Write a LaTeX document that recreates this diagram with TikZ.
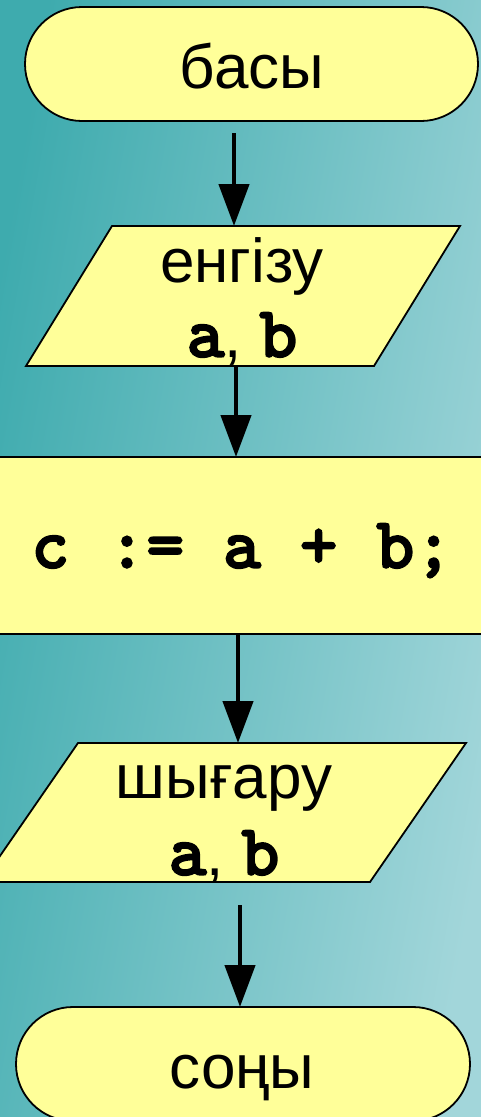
\documentclass[tikz,border=0pt]{standalone}
\usepackage{fontspec}
\setmainfont{Liberation Sans}
\newfontfamily\codefont{lmmonolt10-bold}[Extension=.otf, FakeBold=2]
\usetikzlibrary{arrows.meta}
\definecolor{bgdark}{RGB}{62,171,174}
\definecolor{bglight}{RGB}{162,214,218}
\definecolor{boxfill}{RGB}{255,255,153}
\tikzset{
  shapebox/.style={draw=black, fill=boxfill, line width=1.8pt, line join=miter},
  flow/.style={line width=4.5pt, -{Triangle[length=42pt,width=30pt]}},
  lbl/.style={anchor=base, inner sep=0pt, font=\fontsize{62}{74}\selectfont},
  code/.style={anchor=base, inner sep=0pt, font=\codefont\fontsize{73}{80}\selectfont}
}
\newcommand{\cv}[1]{{\codefont\fontsize{73}{80}\selectfont #1}}
\begin{document}
\begin{tikzpicture}[x=1pt,y=-1pt]
\useasboundingbox (0,0) rectangle (481,1117);
\begin{scope}
\clip (0,0) rectangle (481,1117);
\shade[left color=bgdark, right color=bglight, shading angle=80] (0,0) rectangle (481,1117);
% start terminal
\draw[shapebox, rounded corners=57pt] (25,7) rectangle (478,121);
\node[lbl] (start) at (252,88) {басы};
% input
\draw[shapebox] (112,226) -- (460,226) -- (374,366) -- (26,366) -- cycle;
\node[lbl] (inlbl) at (242,282) {енгізу};
\node[lbl] (invars) at (242,357) {\cv{a}, \cv{b}};
% process
\draw[shapebox] (-5,457) rectangle (486,634);
\node[code] (proc) at (242,568) {c := a + b;};
% output
\draw[shapebox] (78,743) -- (466,743) -- (370,882) -- (-18,882) -- cycle;
\node[lbl] (outlbl) at (224,798) {шығару};
\node[lbl] (outvars) at (224,875) {\cv{a}, \cv{b}};
% end terminal
\draw[shapebox, rounded corners=57pt] (16,1007) rectangle (470,1121);
\node[lbl] (stop) at (242,1088) {соңы};
% connector coordinates
\coordinate (a1s) at (234,133);
\coordinate (a1e) at (234,226);
\coordinate (a2s) at (236,366);
\coordinate (a2e) at (236,457);
\coordinate (a3s) at (238,634);
\coordinate (a3e) at (238,743);
\coordinate (a4s) at (240,905);
\coordinate (a4e) at (240,1007);
\draw[flow] (a1s) -- (a1e);
\draw[flow] (a2s) -- (a2e);
\draw[flow] (a3s) -- (a3e);
\draw[flow] (a4s) -- (a4e);
\end{scope}
\end{tikzpicture}
\end{document}
